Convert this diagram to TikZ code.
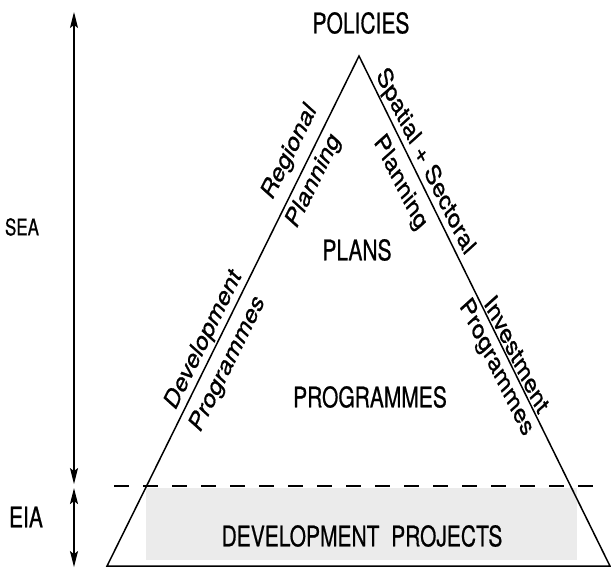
\documentclass[tikz,border=0pt]{standalone}
\usepackage{fontspec}
\setmainfont{TeX Gyre Heros}[BoldFont=TeX Gyre Heros, BoldFeatures={FakeBold=0.8}]
\usetikzlibrary{arrows.meta}

\begin{document}
\begin{tikzpicture}[x=1pt, y=-0.74074pt, yscale=1.35,
    level/.style={font=\fontsize{21}{24}\selectfont\bfseries, transform shape, inner sep=0pt},
    side/.style={font=\fontsize{20.5}{24}\selectfont\bfseries, transform shape, inner sep=0pt},
    arrow/.style={<->, >={Stealth[length=16pt,width=8pt,inset=3pt]}, line width=1.3pt},
    edge/.style={line width=1.5pt, line join=miter},
    cut/.style={dash pattern=on 15pt off 14pt, line width=1.8pt},
    band/.style={fill=gray!16, draw=none}
]
\useasboundingbox (0,0) rectangle (611,569);

% Corners of the triangle
\coordinate (apex) at (359,56);
\coordinate (bl) at (107,566);
\coordinate (br) at (610,566);

% Project band
\fill[band] (146,488) rectangle (577,560);

% Triangle and dividing line
\coordinate (cutl) at (114,486);
\coordinate (cutr) at (597,486);
\draw[cut] (cutl) -- (cutr);
\draw[edge] (bl) -- (apex) -- (br) -- cycle;

% Levels
\node[level] (policies) at (361,23) {POLICIES};
\node[level] (plans) at (357,250) {PLANS};
\node[level] (programmes) at (370,397) {PROGRAMMES};
\node[level] (projects) at (362,536) {DEVELOPMENT\ \ PROJECTS};

% Scope of assessment
\coordinate (seatop) at (74,12);
\coordinate (seabot) at (74,484);
\coordinate (eiatop) at (74,488);
\coordinate (eiabot) at (74,567);
\draw[arrow] (seatop) -- (seabot);
\draw[arrow] (eiatop) -- (eiabot);
\node[level, font=\fontsize{17}{19}\selectfont\bfseries] (sea) at (22,227) {SEA};
\node[level] (eia) at (26,517) {EIA};

% Labels along the left side
\node[side, rotate=56.3] (regional) at (290,152) {Regional};
\node[side, rotate=56.3] (planningl) at (314,181) {Planning};
\node[side, rotate=56.3] (devel) at (204,340) {Development};
\node[side, rotate=56.3] (progl) at (228,364) {Programmes};

% Labels along the right side
\node[side, rotate=-56.3] (spatial) at (425,162) {Spatial + Sectoral};
\node[side, rotate=-56.3] (planningr) at (400,183) {Planning};
\node[side, rotate=-56.3] (invest) at (517,354) {Investment};
\node[side, rotate=-56.3] (progr) at (496,368) {Programmes};

\end{tikzpicture}
\end{document}
